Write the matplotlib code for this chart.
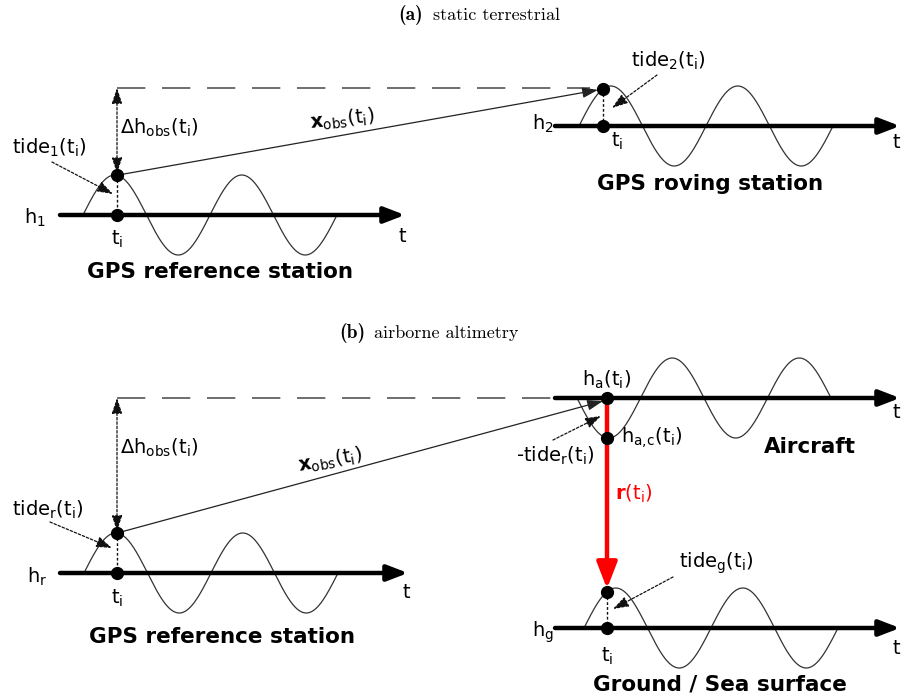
import numpy as np
import matplotlib
matplotlib.use('Agg')
import matplotlib.pyplot as plt

plt.rcParams['mathtext.fontset'] = 'dejavusans'
plt.rcParams['mathtext.default'] = 'regular'
plt.rcParams['font.family'] = ['DejaVu Sans']

# ---------------- content ----------------
panel_tags = ['(a)', '(b)']
panel_names = ['static terrestrial', 'airborne altimetry']
station_names = ['GPS reference station', 'GPS roving station',
                 'GPS reference station', 'Aircraft', 'Ground / Sea surface']
height_symbols = ['$h_1$', '$h_2$', '$h_r$', '$h_g$']
tide_labels = ['$tide_1(t_i)$', '$tide_2(t_i)$', '$tide_r(t_i)$',
               '-$tide_r(t_i)$', '$tide_g(t_i)$']
dh_label = r'$\Delta h_{obs}(t_i)$'
xobs_label = r'$\mathbf{x}_{obs}(t_i)$'
range_label = r'$\mathbf{r}(t_i)$'
ha_label = '$h_a(t_i)$'
hac_label = r'$h_{a,\!c}(t_i)$'
time_label = '$t$'
epoch_label = '$t_i$'

# tide wave schematic: amplitude / period in pixels, cycles
wave_amp = 40
wave_period = 127
wave_cycles = 2

# ---------------- layout (pixel coordinates) ----------------
W, H = 902, 697
fig = plt.figure(figsize=(W / 100, H / 100), dpi=100)
ax = fig.add_axes([0, 0, 1, 1])
ax.set_xlim(0, W)
ax.set_ylim(H, 0)
ax.axis('off')

LBL = 14
BOLD = 15.5
DARK = '#111111'
DOT_LS = (0, (2, 1.5))


def wave_y(x, base, start, sign):
    return base - sign * wave_amp * np.sin(2 * np.pi * (x - start) / wave_period)


def track(base, x0, x1, start, sign):
    ax.annotate('', xy=(x1, base), xytext=(x0, base),
                arrowprops=dict(arrowstyle='-|>,head_length=1.25,head_width=0.48',
                                lw=3.2, color='black', shrinkA=0, shrinkB=0,
                                mutation_scale=10))
    xs = np.linspace(start, start + wave_cycles * wave_period, 400)
    ax.plot(xs, wave_y(xs, base, start, sign), color='#333333', lw=0.9,
            zorder=1)


def dot(x, y):
    ax.plot([x], [y], 'o', color='black', ms=8.5, zorder=5)


def dotted(x, y0, y1):
    ax.plot([x, x], [y0, y1], color=DARK, lw=1.0, ls=DOT_LS, zorder=2)


def thin_arrow(p0, p1, ls='-', both=False, color=DARK, lw=0.9):
    style = '<|-|>' if both else '-|>'
    ax.annotate('', xy=p1, xytext=p0,
                arrowprops=dict(arrowstyle=style + ',head_length=0.95,head_width=0.32',
                                lw=lw, color=color, ls=ls, shrinkA=0, shrinkB=0,
                                mutation_scale=10), zorder=3)


def txt(x, y, s, size=LBL, ha='center', va='center', **kw):
    ax.text(x, y, s, fontsize=size, ha=ha, va=va, **kw)


# ---------- titles ----------
title_pos = [(398, 433, 15), (339, 374, 333)]
for tag, name, (xt, xn, y) in zip(panel_tags, panel_names, title_pos):
    ax.text(xt, y, tag, family='cmb10', fontsize=14, ha='left', va='center')
    ax.text(xn, y, name, family='cmr10', fontsize=13, ha='left', va='center')

# ---------- panel (a) ----------
tA1 = dict(base=215, x0=60, x1=405, start=83, sign=1)
track(**tA1)
xr = 117
yr = wave_y(xr, tA1['base'], tA1['start'], 1)
tA2 = dict(base=126, x0=555, x1=900, start=579, sign=1)
track(**tA2)
xv = 603
yv = wave_y(xv, tA2['base'], tA2['start'], 1)
ytop = 88
ax.plot([xr, 590], [ytop, ytop], color='#555555', lw=1.2, ls=(0, (17, 10)),
        zorder=1)
thin_arrow((xr, ytop), (xr, yr - 2), ls=DOT_LS, both=True)
dotted(xr, yr, tA1['base'])
dotted(xv, yv, tA2['base'])
thin_arrow((xr, yr), (xv - 5, yv + 1), color='#222222')
dot(xr, yr); dot(xr, tA1['base'])
dot(xv, yv); dot(xv, tA2['base'])
thin_arrow((52, 162), (113, 194), ls=DOT_LS)
thin_arrow((657, 75), (612, 108), ls=DOT_LS)

txt(35, 218, height_symbols[0])
txt(117, 239, epoch_label)
txt(403, 236, time_label)
txt(120, 128, dh_label, ha='left')
txt(12, 148, tide_labels[0], ha='left')
txt(342, 120, xobs_label, rotation=6)
txt(220, 272, station_names[0], size=BOLD, weight='bold')
txt(543, 124, height_symbols[1])
txt(668, 61, tide_labels[1])
txt(617, 141, epoch_label)
txt(897, 142, time_label)
txt(710, 184, station_names[1], size=BOLD, weight='bold')

# ---------- panel (b) ----------
tB1 = dict(base=573, x0=60, x1=408, start=84, sign=1)
track(**tB1)
yr2 = wave_y(xr, tB1['base'], tB1['start'], 1)
tB2 = dict(base=398, x0=555, x1=900, start=577, sign=-1)
track(**tB2)
xa = 607
ya_c = wave_y(xa, tB2['base'], tB2['start'], -1)
tB3 = dict(base=628, x0=555, x1=900, start=584, sign=1)
track(**tB3)
yg = wave_y(xa, tB3['base'], tB3['start'], 1)

ax.plot([xr, 555], [398, 398], color='#555555', lw=1.2, ls=(0, (17, 10)),
        zorder=1)
thin_arrow((xr, 398), (xr, yr2 - 2), ls=DOT_LS, both=True)
dotted(xr, yr2, tB1['base'])
dotted(xa, yg, tB3['base'])
thin_arrow((xr, yr2), (xa - 4, 401), color='#222222')
ax.annotate('', xy=(xa, yg - 3), xytext=(xa, 398),
            arrowprops=dict(arrowstyle='-|>,head_length=1.6,head_width=0.62',
                            lw=3.2, color='#ff0000', shrinkA=0, shrinkB=0,
                            mutation_scale=10), zorder=4)
dot(xr, yr2); dot(xr, tB1['base'])
dot(xa, 398); dot(xa, ya_c)
dot(xa, yg); dot(xa, tB3['base'])
thin_arrow((50, 522), (112, 548), ls=DOT_LS)
thin_arrow((553, 440), (601, 416), ls=DOT_LS)
thin_arrow((673, 577), (613, 609), ls=DOT_LS)

txt(37, 577, height_symbols[2])
txt(117, 598, epoch_label)
txt(407, 592, time_label)
txt(120, 448, dh_label, ha='left')
txt(12, 510, tide_labels[2], ha='left')
txt(330, 460, xobs_label, rotation=10)
txt(222, 637, station_names[2], size=BOLD, weight='bold')

txt(607, 380, ha_label)
txt(621, 438, hac_label, ha='left')
txt(555, 456, tide_labels[3])
txt(615, 494, range_label, ha='left', color='#ff0000')
txt(810, 447, station_names[3], size=BOLD, weight='bold')
txt(897, 412, time_label)
txt(716, 563, tide_labels[4])
txt(543, 632, height_symbols[3])
txt(607, 656, epoch_label)
txt(897, 648, time_label)
txt(720, 684, station_names[4], size=BOLD, weight='bold')

fig.savefig('out.png', dpi=100)
